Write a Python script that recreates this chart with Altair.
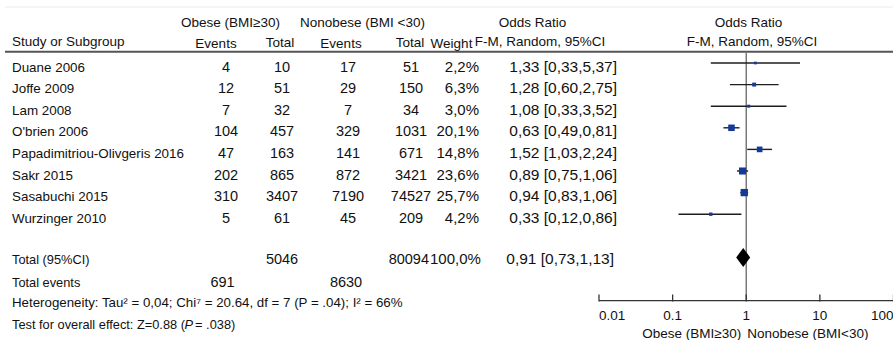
import altair as alt
import pandas as pd

# ---- study-level data -------------------------------------------------------
studies = ["Duane 2006", "Joffe 2009", "Lam 2008", "O'brien 2006",
           "Papadimitriou-Olivgeris 2016", "Sakr 2015", "Sasabuchi 2015",
           "Wurzinger 2010"]
obese_events = [4, 12, 7, 104, 47, 202, 310, 5]
obese_total = [10, 51, 32, 457, 163, 865, 3407, 61]
nonobese_events = [17, 29, 7, 329, 141, 872, 7190, 45]
nonobese_total = [51, 150, 34, 1031, 671, 3421, 74527, 209]
weight = [2.2, 6.3, 3.0, 20.1, 14.8, 23.6, 25.7, 4.2]
odds_ratio = [1.33, 1.28, 1.08, 0.63, 1.52, 0.89, 0.94, 0.33]
ci_low = [0.33, 0.60, 0.33, 0.49, 1.03, 0.75, 0.83, 0.12]
ci_high = [5.37, 2.75, 3.52, 0.81, 2.24, 1.06, 1.06, 0.86]

# ---- pooled result ----------------------------------------------------------
total_obese = 5046
total_nonobese = 80094
total_weight = 100.0
pooled_or = 0.91
pooled_low = 0.73
pooled_high = 1.13
events_obese = 691
events_nonobese = 8630

axis_ticks = [0.01, 0.1, 1, 10, 100]
axis_tick_labels = ["0.01", "0.1", "1", "10", "100"]

heterogeneity = "Heterogeneity: Tau\u00b2 = 0,04; Chi\u2077 = 20.64, df = 7 (P = .04); I\u00b2 = 66%"
overall_effect = ["Test for overall effect: Z=0.88 (", "P", " = .038)"]


def dec(v, nd=2):
    return f"{v:.{nd}f}".replace(".", ",")


def or_label(o, lo, hi):
    return f"{dec(o)} [{dec(lo)},{dec(hi)}]"


rows = pd.DataFrame({
    "row": list(range(len(studies))),
    "study": studies,
    "oe": [str(v) for v in obese_events],
    "ot": [str(v) for v in obese_total],
    "ne": [str(v) for v in nonobese_events],
    "nt": [str(v) for v in nonobese_total],
    "weight": weight,
    "wlab": [dec(w, 1) + "%" for w in weight],
    "or": odds_ratio,
    "lo": ci_low,
    "hi": ci_high,
    "orlab": [or_label(o, l, h) for o, l, h in zip(odds_ratio, ci_low, ci_high)],
})

TOTAL_ROW = 9
EVENTS_ROW = 10

FONT = "Liberation Sans"
INK = "#111111"
BLUE = "#13399a"
FOOT = 12.8

yscale = alt.Scale(domain=[0, 10], range=[63, 279])
xscale = alt.Scale(type="log", domain=[0.01, 100], range=[599, 893.5])


def label(txt, x, y, align="center", size=13.5, style="normal"):
    return alt.Chart(pd.DataFrame({"t": [txt]})).mark_text(
        align=align, baseline="alphabetic", font=FONT, fontSize=size,
        fontStyle=style, color=INK
    ).encode(x=alt.value(x), y=alt.value(y), text="t:N")


def column(df, field, x, align="center", size=14.5, dy=8.5):
    return alt.Chart(df).mark_text(
        align=align, baseline="alphabetic", font=FONT, fontSize=size,
        color=INK, dy=dy
    ).encode(x=alt.value(x), y=alt.Y("row:Q", scale=yscale, axis=None),
             text=f"{field}:N")


layers = []

# frame lines
layers.append(alt.Chart(pd.DataFrame({"a": [0]})).mark_rule(
    color="#ececec", strokeWidth=1).encode(
    x=alt.value(5), x2=alt.value(893), y=alt.value(7)))
layers.append(alt.Chart(pd.DataFrame({"a": [0]})).mark_rule(
    color="#555555", strokeWidth=2).encode(
    x=alt.value(5), x2=alt.value(893), y=alt.value(51.7)))

# column headers
layers += [
    label("Obese (BMI\u226530)", 230.5, 26.5),
    label("Nonobese (BMI <30)", 362.5, 26.5),
    label("Odds Ratio", 532.5, 26.5),
    label("Odds Ratio", 748.5, 26.5),
    label("Study or Subgroup", 12, 46, align="left"),
    label("Events", 216, 47.5),
    label("Total", 280, 46.5),
    label("Events", 341, 47.5),
    label("Total", 410, 46.5),
    label("Weight", 451.5, 47.5),
    label("F-M, Random, 95%CI", 540, 46),
    label("F-M, Random, 95%CI", 752, 46),
]

# table body
layers += [
    column(rows, "study", 12, align="left", size=13.4),
    column(rows, "oe", 226),
    column(rows, "ot", 282),
    column(rows, "ne", 348),
    column(rows, "nt", 411),
    column(rows, "wlab", 479, align="right", size=15),
    column(rows, "orlab", 617, align="right", size=15.5),
]

# totals
totals = pd.DataFrame({
    "row": [TOTAL_ROW],
    "name": ["Total (95%CI)"],
    "ot": [str(total_obese)],
    "nt": [str(total_nonobese)],
    "wlab": [dec(total_weight, 1) + "%"],
    "orlab": [or_label(pooled_or, pooled_low, pooled_high)],
})
events = pd.DataFrame({
    "row": [EVENTS_ROW],
    "name": ["Total events"],
    "oe": [str(events_obese)],
    "ne": [str(events_nonobese)],
})
layers += [
    column(totals, "name", 12, align="left", size=FOOT, dy=6.5),
    column(totals, "ot", 282, dy=6.5),
    column(totals, "nt", 429, align="right", dy=6.5),
    column(totals, "wlab", 430, align="left", size=15, dy=6.5),
    column(totals, "orlab", 614, align="right", size=15.5, dy=6.5),
    column(events, "name", 12, align="left", size=FOOT, dy=8),
    column(events, "oe", 222.5, dy=8),
    column(events, "ne", 346, dy=8),
]

# footnotes (italic P in the overall-effect line)
p_x = 12 + 13.44 * FOOT + 0.5
layers += [
    label(heterogeneity, 12, 307, align="left", size=13.3),
    label(overall_effect[0], 12, 328.5, align="left", size=FOOT),
    label(overall_effect[1], p_x, 328.5, align="left", size=FOOT, style="italic"),
    label(overall_effect[2], p_x + 0.667 * FOOT + 2, 328.5, align="left", size=FOOT),
]

# forest plot: line of no effect
layers.append(alt.Chart(pd.DataFrame({"x": [1]})).mark_rule(
    color="#7a7a7a", strokeWidth=1.5).encode(
    x=alt.X("x:Q", scale=xscale, axis=None),
    y=alt.value(52), y2=alt.value(300.6)))

# forest plot: hand-drawn axis
ticks = pd.DataFrame({"t": axis_ticks, "lab": axis_tick_labels})
span = pd.DataFrame({"lo": [axis_ticks[0]], "hi": [axis_ticks[-1]]})
layers.append(alt.Chart(span).mark_rule(color="#333333", strokeWidth=1.3).encode(
    x=alt.X("lo:Q", scale=xscale, axis=None), x2="hi:Q", y=alt.value(300.6)))
layers.append(alt.Chart(ticks).mark_rule(color="#333333", strokeWidth=1.3).encode(
    x=alt.X("t:Q", scale=xscale, axis=None), y=alt.value(294.5), y2=alt.value(301.5)))
for sel, align in ((ticks.iloc[:1], "left"), (ticks.iloc[1:-1], "center"), (ticks.iloc[-1:], "right")):
    layers.append(alt.Chart(sel).mark_text(
        align=align, baseline="alphabetic", font=FONT, fontSize=13.5, color=INK
    ).encode(x=alt.X("t:Q", scale=xscale, axis=None), y=alt.value(319.5), text="lab:N"))

# axis captions on either side of 1
one = pd.DataFrame({"x": [1], "left": ["Obese (BMI\u226530)"], "right": ["Nonobese (BMI<30)"]})
layers.append(alt.Chart(one).mark_text(
    align="right", baseline="alphabetic", font=FONT, fontSize=13.5, color=INK, dx=-5
).encode(x=alt.X("x:Q", scale=xscale, axis=None), y=alt.value(337.5), text="left:N"))
layers.append(alt.Chart(one).mark_text(
    align="left", baseline="alphabetic", font=FONT, fontSize=13.5, color=INK, dx=1
).encode(x=alt.X("x:Q", scale=xscale, axis=None), y=alt.value(337.5), text="right:N"))

# forest plot: confidence intervals and weighted point estimates
layers.append(alt.Chart(rows).mark_rule(color="#1e1e1e", strokeWidth=1.4).encode(
    x=alt.X("lo:Q", scale=xscale, axis=None), x2="hi:Q",
    y=alt.Y("row:Q", scale=yscale, axis=None)))
layers.append(alt.Chart(rows).mark_square(color=BLUE, opacity=1).encode(
    x=alt.X("or:Q", scale=xscale, axis=None),
    y=alt.Y("row:Q", scale=yscale, axis=None),
    size=alt.Size("weight:Q", scale=alt.Scale(domain=[0, 30], range=[3, 62]), legend=None)))

# pooled estimate diamond
half = 0.44
diamond = pd.DataFrame({
    "x": [pooled_low, pooled_or, pooled_high],
    "top": [TOTAL_ROW, TOTAL_ROW - half, TOTAL_ROW],
    "bot": [TOTAL_ROW, TOTAL_ROW + half, TOTAL_ROW],
})
layers.append(alt.Chart(diamond).mark_area(color="#000000", orient="vertical").encode(
    x=alt.X("x:Q", scale=xscale, axis=None),
    y=alt.Y("top:Q", scale=yscale, axis=None), y2="bot:Q"))

chart = alt.layer(*layers).properties(
    width=893, height=340, autosize=alt.AutoSizeParams(type="none"),
    padding=0, background="white"
).configure_view(strokeWidth=0)

chart.save("out.html", embed_options={"renderer": "svg", "actions": False})
